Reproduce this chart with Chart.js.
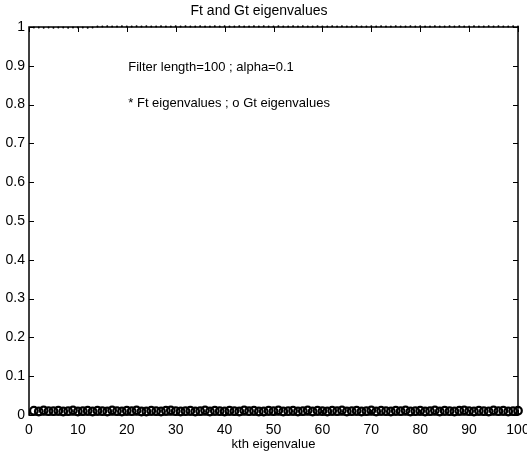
<!DOCTYPE html>
<html>
<head>
<meta charset="utf-8">
<script src="https://cdn.jsdelivr.net/npm/chart.js@4"></script>
<style>
  html, body { margin: 0; padding: 0; background: #fff; }
  #wrap { width: 527px; height: 452px; }
</style>
</head>
<body>
<div id="wrap"><canvas id="chart" width="527" height="452"></canvas></div>
<script>
// eigenvalue index k
const kIndex = [
  1, 2, 3, 4, 5, 6, 7, 8, 9, 10, 11, 12, 13, 14, 15, 16, 17, 18, 19, 20,
  21, 22, 23, 24, 25, 26, 27, 28, 29, 30, 31, 32, 33, 34, 35, 36, 37, 38, 39, 40,
  41, 42, 43, 44, 45, 46, 47, 48, 49, 50, 51, 52, 53, 54, 55, 56, 57, 58, 59, 60,
  61, 62, 63, 64, 65, 66, 67, 68, 69, 70, 71, 72, 73, 74, 75, 76, 77, 78, 79, 80,
  81, 82, 83, 84, 85, 86, 87, 88, 89, 90, 91, 92, 93, 94, 95, 96, 97, 98, 99, 100
];
// Ft eigenvalues ("*" markers) sit on the top edge, ~1
const ftValues = [
  0.999, 0.999, 0.998, 0.999, 0.998, 0.999, 0.999, 0.998, 0.999, 0.999,
  0.999, 0.998, 0.999, 1.001, 1.001, 1.002, 1.001, 1.001, 1.002, 1.001,
  1.001, 1.002, 1.001, 1.002, 1.001, 1.001, 1.002, 1.001, 1.001, 1.002,
  1.001, 1.002, 1.001, 1.001, 1.002, 1.001, 1.001, 1.002, 1.001, 1.002,
  1.001, 1.001, 1.002, 1.001, 1.001, 1.002, 1.001, 1.002, 1.001, 1.001,
  1.002, 1.001, 1.001, 1.002, 1.001, 1.002, 1.001, 1.001, 1.002, 1.001,
  1.001, 1.002, 1.001, 1.002, 1.001, 1.001, 1.002, 1.001, 1.001, 1.002,
  1.001, 1.002, 1.001, 1.001, 1.002, 1.001, 1.001, 1.002, 1.001, 1.002,
  1.001, 1.001, 1.002, 1.001, 1.001, 1.002, 1.001, 1.002, 1.001, 1.001,
  1.002, 1.001, 1.001, 1.002, 1.001, 1.002, 1.001, 1.001, 1.002, 1.001
];
// Gt eigenvalues ("o" markers) form the dark band just above zero
const gtValues = [
  0.011, 0.009, 0.012, 0.010, 0.010, 0.011, 0.009, 0.010, 0.012, 0.009,
  0.010, 0.011, 0.009, 0.011, 0.010, 0.009, 0.012, 0.010, 0.009, 0.011,
  0.010, 0.012, 0.009, 0.009, 0.011, 0.010, 0.009, 0.011, 0.012, 0.010,
  0.009, 0.010, 0.011, 0.009, 0.010, 0.012, 0.009, 0.011, 0.010, 0.009,
  0.011, 0.010, 0.009, 0.012, 0.010, 0.011, 0.009, 0.009, 0.011, 0.010,
  0.012, 0.009, 0.010, 0.011, 0.009, 0.010, 0.012, 0.009, 0.011, 0.010,
  0.009, 0.011, 0.010, 0.012, 0.009, 0.010, 0.011, 0.009, 0.010, 0.012,
  0.009, 0.011, 0.010, 0.009, 0.011, 0.010, 0.012, 0.009, 0.010, 0.011,
  0.009, 0.010, 0.012, 0.009, 0.011, 0.010, 0.009, 0.011, 0.012, 0.010,
  0.009, 0.011, 0.010, 0.009, 0.012, 0.010, 0.011, 0.009, 0.010, 0.011
];
const xTicks = [0, 10, 20, 30, 40, 50, 60, 70, 80, 90, 100];
const yTicks = [0, 0.1, 0.2, 0.3, 0.4, 0.5, 0.6, 0.7, 0.8, 0.9, 1];
const titleText = "Ft and Gt eigenvalues";
const xLabel = "kth eigenvalue";
const noteLines = [
  { x: 20.3, y: 0.897, text: "Filter length=100 ; alpha=0.1" },
  { x: 20.3, y: 0.804, text: "* Ft eigenvalues ; o Gt eigenvalues" }
];

const FONT = "'Liberation Sans', Arial, Helvetica, sans-serif";

const toPoints = (ys) => kIndex.map((k, i) => ({ x: k, y: ys[i] }));

// MATLAB-ish box with inward ticks on every side + text annotations
const boxPlugin = {
  id: "box",
  afterDatasetsDraw(chart) {
    const { ctx, chartArea: a, scales: { x, y } } = chart;
    ctx.save();
    ctx.strokeStyle = "#000";
    ctx.lineWidth = 1.5;
    ctx.strokeRect(a.left, a.top, a.right - a.left, a.bottom - a.top);
    ctx.lineWidth = 1;
    ctx.beginPath();
    const t = 5;
    xTicks.forEach(v => {
      const px = Math.round(x.getPixelForValue(v)) + 0.5;
      ctx.moveTo(px, a.bottom); ctx.lineTo(px, a.bottom - t);
      ctx.moveTo(px, a.top); ctx.lineTo(px, a.top + t);
    });
    yTicks.forEach(v => {
      const py = Math.round(y.getPixelForValue(v)) + 0.5;
      ctx.moveTo(a.left, py); ctx.lineTo(a.left + t, py);
      ctx.moveTo(a.right, py); ctx.lineTo(a.right - t, py);
    });
    ctx.stroke();

    ctx.fillStyle = "#000";
    ctx.font = "13px " + FONT;
    ctx.textBaseline = "middle";
    ctx.textAlign = "left";
    noteLines.forEach(n => {
      ctx.fillText(n.text, x.getPixelForValue(n.x), y.getPixelForValue(n.y));
    });
    ctx.restore();
  }
};

new Chart(document.getElementById("chart"), {
  type: "scatter",
  data: {
    datasets: [
      {
        label: "Ft eigenvalues",
        data: toPoints(ftValues),
        pointStyle: "circle",
        pointRadius: 1,
        backgroundColor: "#000",
        borderColor: "#000",
        borderWidth: 0
      },
      {
        label: "Gt eigenvalues",
        data: toPoints(gtValues),
        pointStyle: "circle",
        pointRadius: 3.8,
        backgroundColor: "rgba(0,0,0,0)",
        borderColor: "#000",
        borderWidth: 2.2
      }
    ]
  },
  options: {
    responsive: false,
    animation: false,
    clip: false,
    layout: { padding: { left: 0, right: 9, top: 0, bottom: 0 } },
    plugins: {
      legend: { display: false },
      tooltip: { enabled: false },
      title: {
        display: true,
        text: titleText,
        color: "#000",
        font: { family: FONT, size: 14, weight: "normal" },
        padding: { top: 3, bottom: 7.2 }
      }
    },
    scales: {
      x: {
        type: "linear",
        min: 0,
        max: 100,
        grid: { display: false, drawTicks: false },
        border: { display: false },
        afterBuildTicks: (s) => { s.ticks = xTicks.map(v => ({ value: v })); },
        afterFit: (s) => { s.height = 37; s.paddingLeft = 0; s.paddingRight = 0; },
        ticks: {
          color: "#000",
          padding: 7,
          maxRotation: 0,
          font: { family: FONT, size: 14 },
          callback: (v) => String(v)
        },
        title: {
          display: true,
          text: xLabel,
          color: "#000",
          padding: { top: 0, bottom: 0 },
          font: { family: FONT, size: 13 }
        }
      },
      y: {
        type: "linear",
        min: 0,
        max: 1,
        grid: { display: false, drawTicks: false },
        border: { display: false },
        afterBuildTicks: (s) => { s.ticks = yTicks.map(v => ({ value: v })); },
        afterFit: (s) => { s.width = 29; s.paddingTop = 0; s.paddingBottom = 0; },
        ticks: {
          color: "#000",
          padding: 4,
          font: { family: FONT, size: 14 },
          callback: (v) => String(v)
        }
      }
    }
  },
  plugins: [boxPlugin]
});
</script>
</body>
</html>
